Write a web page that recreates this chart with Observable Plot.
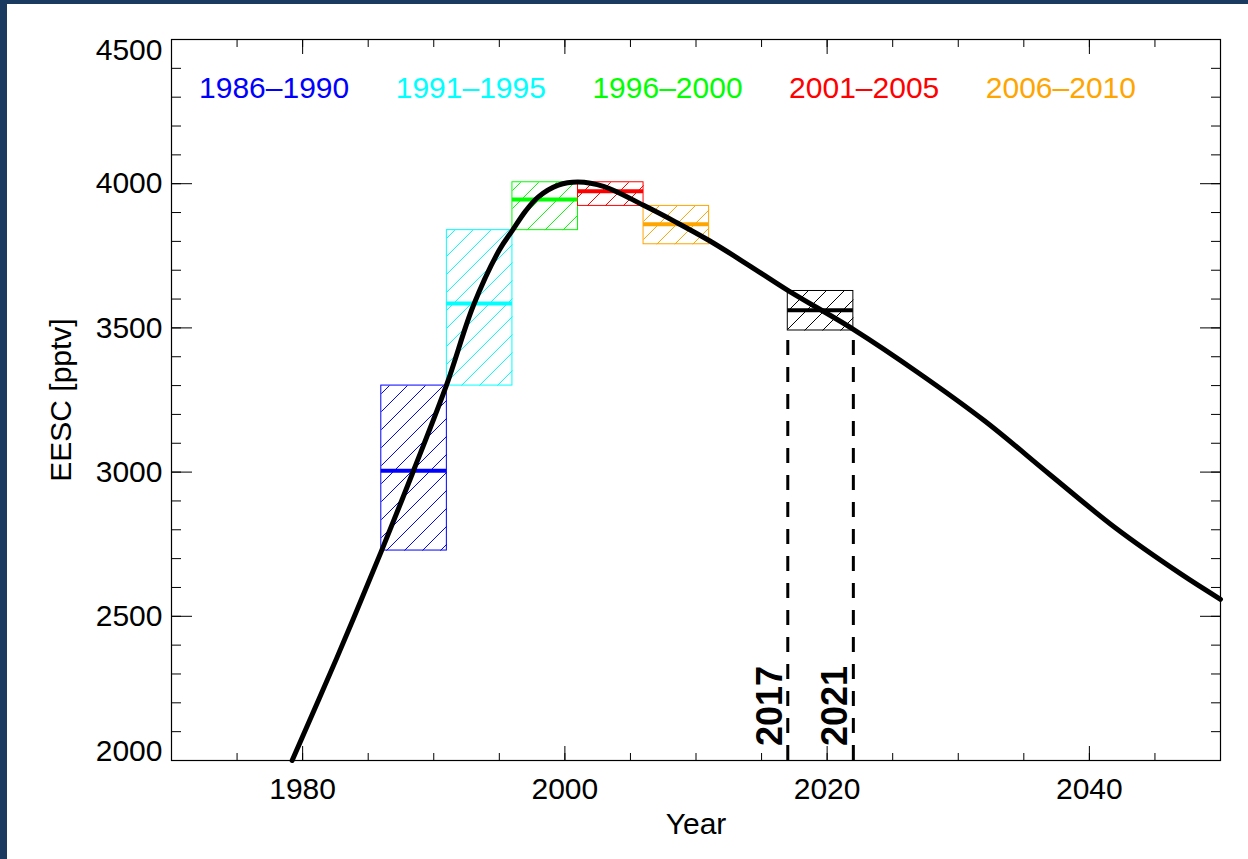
<!DOCTYPE html>
<html><head><meta charset="utf-8">
<script src="https://cdn.jsdelivr.net/npm/d3@7"></script>
<script src="https://cdn.jsdelivr.net/npm/@observablehq/plot@0.6"></script>
<style>
html,body{margin:0;padding:0;background:#fff;width:1248px;height:859px;overflow:hidden;}
#wrap{position:relative;width:1248px;height:859px;}
#wrap svg{position:absolute;left:0;top:0;}
.barL{position:absolute;left:0;top:0;width:7px;height:859px;background:#1b3a5f;}
.barT{position:absolute;left:0;top:0;width:1248px;height:4px;background:#1b3a5f;}
</style></head><body><div id="wrap"></div>
<script>
// ---- data ----
const periods   = ["1986–1990","1991–1995","1996–2000","2001–2005","2006–2010"];
const boxStart  = [1986, 1991, 1996, 2001, 2006, 2017];
const boxEnd    = [1991, 1996, 2001, 2006, 2011, 2022];
const boxLow    = [2728, 3300, 3839, 3923, 3790, 3491];
const boxHigh   = [3300, 3839, 4005, 4005, 3923, 3628];
const boxMean   = [3005, 3585, 3945, 3974, 3859, 3561];
const boxColors = ["#0000ff","#00ffff","#00ff00","#ff0000","#ffa500","#000000"];

const curveYear = [1979.2,1982.6,1986,1988.5,1991,1993,1995,1996,1997,1998,1999.5,2001,2003,2006,2008.5,2011,2014,2017,2022,2027,2032,2037,2042,2047,2050];
const curveEESC = [2000,2355,2725,3010,3305,3575,3770,3838,3905,3955,3995,4006,3990,3925,3866,3803,3718,3630,3495,3343,3178,2991,2806,2646,2559];

const markerYear  = [2017, 2022];
const markerLabel = ["2017", "2021"];

const xMajor = [1980, 2000, 2020, 2040];
const yMajor = [2000, 2500, 3000, 3500, 4000, 4500];
// ---- layout ----
const W = 1248, H = 859, ML = 171, MR = 28, MT = 39, MB = 99;
const XD = [1970, 2050], YD = [2000, 4500];
const FONT = "Liberation Sans, Arial, Helvetica, sans-serif";
const HATCH = 18; // hatch spacing, px
const curve = curveYear.map((x, i) => ({x, y: curveEESC[i]}));
const xMinor = d3.range(1970, 2051, 5);
const yMinor = d3.range(2000, 4501, 100);
const empty = () => "";

// 45° hatch segments inside each box (computed in screen space, mapped back to data)
const sx = d3.scaleLinear(XD, [ML, W - MR]);
const sy = d3.scaleLinear(YD, [H - MB, MT]);
const hatch = [];
boxStart.forEach((s, i) => {
  const x0 = sx(boxStart[i]), x1 = sx(boxEnd[i]), yT = sy(boxHigh[i]), yB = sy(boxLow[i]);
  for (let c = Math.ceil((x0 + yT) / HATCH) * HATCH; c < x1 + yB; c += HATCH) {
    const xa = Math.max(x0, c - yB), xb = Math.min(x1, c - yT);
    if (xb > xa) hatch.push({box: i, x1: sx.invert(xa), y1: sy.invert(c - xa), x2: sx.invert(xb), y2: sy.invert(c - xb)});
  }
});

const marks = [];
boxStart.forEach((s, i) => {
  marks.push(Plot.link(hatch.filter(h => h.box === i), {x1: "x1", y1: "y1", x2: "x2", y2: "y2", stroke: boxColors[i], strokeWidth: 1}));
});
boxStart.forEach((s, i) => {
  marks.push(Plot.rect([i], {x1: j => boxStart[j], x2: j => boxEnd[j], y1: j => boxLow[j], y2: j => boxHigh[j],
    fill: "none", stroke: boxColors[i], strokeWidth: 1}));
});
boxStart.forEach((s, i) => {
  marks.push(Plot.ruleY([i], {x1: j => boxStart[j], x2: j => boxEnd[j], y: j => boxMean[j], stroke: boxColors[i], strokeWidth: 4}));
});
marks.push(Plot.ruleX(markerYear, {x: d => d, y1: 2000, y2: boxLow[5], stroke: "black", strokeWidth: 3, strokeDasharray: "15,12"}));
marks.push(Plot.line(curve, {x: "x", y: "y", stroke: "black", strokeWidth: 5, curve: "catmull-rom"}));
marks.push(Plot.text(markerLabel, {x: (d, i) => markerYear[i], y: 2050, text: d => d, rotate: -90, textAnchor: "start", lineAnchor: "bottom",
  dx: -6, fontSize: 36, fontWeight: "bold", fill: "black"}));
periods.forEach((p, i) => {
  marks.push(Plot.text([p], {x: 1972.1 + 15 * i, y: 4297, text: d => d, textAnchor: "start", lineAnchor: "bottom", fontSize: 30, fill: boxColors[i]}));
});
// axes
marks.push(
  Plot.frame({stroke: "black", strokeWidth: 1.2}),
  Plot.axisX({anchor: "bottom", ticks: xMajor, tickSize: -14, tickPadding: 31, tickFormat: "d", fontSize: 30, label: null}),
  Plot.axisX({anchor: "bottom", ticks: xMinor, tickSize: -7, tickFormat: empty, label: null}),
  Plot.axisX({anchor: "top", ticks: xMajor, tickSize: -14, tickFormat: empty, label: null}),
  Plot.axisX({anchor: "top", ticks: xMinor, tickSize: -7, tickFormat: empty, label: null}),
  Plot.axisY({anchor: "left", ticks: yMajor, tickSize: -21, tickFormat: empty, label: null}),
  Plot.axisY({anchor: "left", ticks: yMinor, tickSize: -10, tickFormat: empty, label: null}),
  Plot.axisY({anchor: "right", ticks: yMajor, tickSize: -21, tickFormat: empty, label: null}),
  Plot.axisY({anchor: "right", ticks: yMinor, tickSize: -10, tickFormat: empty, label: null}),
  Plot.text(yMajor.slice(1, -1), {y: d => d, frameAnchor: "left", text: d => String(d), textAnchor: "end", lineAnchor: "middle", dx: -9, fontSize: 30}),
  Plot.text([yMajor[yMajor.length - 1]], {y: d => d, frameAnchor: "left", text: d => String(d), textAnchor: "end", lineAnchor: "top", dx: -9, dy: -1, fontSize: 30}),
  Plot.text([yMajor[0]], {y: d => d, frameAnchor: "left", text: d => String(d), textAnchor: "end", lineAnchor: "bottom", dx: -9, fontSize: 30}),
  Plot.text(["EESC [pptv]"], {frameAnchor: "left", rotate: -90, textAnchor: "middle", lineAnchor: "bottom", dx: -101, fontSize: 30}),
  Plot.text(["Year"], {frameAnchor: "bottom", textAnchor: "middle", lineAnchor: "bottom", dy: 73, fontSize: 30})
);

const svg = Plot.plot({
  width: W, height: H,
  marginLeft: ML, marginRight: MR, marginTop: MT, marginBottom: MB,
  style: {fontFamily: FONT, background: "white", color: "black", overflow: "visible"},
  x: {domain: XD, axis: null},
  y: {domain: YD, axis: null},
  marks
});
const wrap = document.getElementById("wrap");
wrap.appendChild(svg);
const l = document.createElement("div"); l.className = "barL"; wrap.appendChild(l);
const t = document.createElement("div"); t.className = "barT"; wrap.appendChild(t);
</script></body></html>
